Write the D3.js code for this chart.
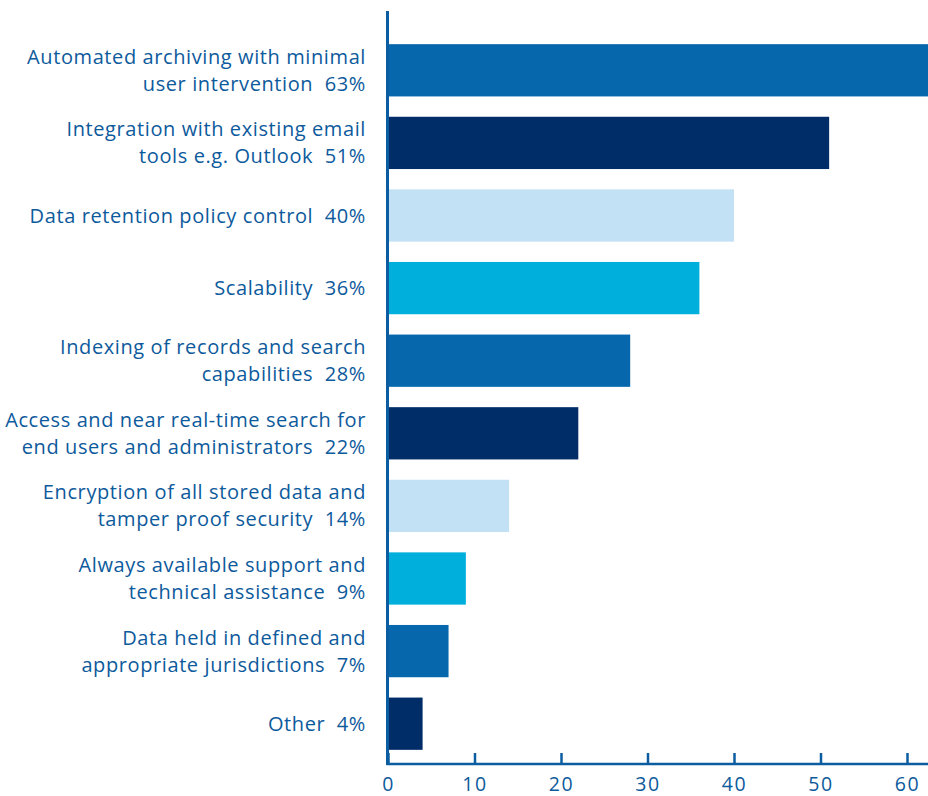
<!DOCTYPE html>
<html>
<head>
<meta charset="utf-8">
<script src="https://cdn.jsdelivr.net/npm/d3@7"></script>
<style>
  html, body { margin: 0; padding: 0; background: #fff; }
  svg { display: block; }
  text { font-family: "Open Sans", "Noto Sans", sans-serif; white-space: pre; }
</style>
</head>
<body>
<svg id="chart" width="928" height="796"></svg>
<script>
const categories = [
  ["Automated archiving with minimal", "user intervention  63%"],
  ["Integration with existing email", "tools e.g. Outlook  51%"],
  ["Data retention policy control  40%"],
  ["Scalability  36%"],
  ["Indexing of records and search", "capabilities  28%"],
  ["Access and near real-time search for", "end users and administrators  22%"],
  ["Encryption of all stored data and", "tamper proof security  14%"],
  ["Always available support and", "technical assistance  9%"],
  ["Data held in defined and", "appropriate jurisdictions  7%"],
  ["Other  4%"]
];
const values = [63, 51, 40, 36, 28, 22, 14, 9, 7, 4];
const palette = ["#0667ad", "#002d67", "#c3e1f5", "#00afdb"];
const tickValues = [0, 10, 20, 30, 40, 50, 60];

const svg = d3.select("#chart");
const W = 928, H = 796;
const axisColor = "#0b5ca0";
const textColor = "#0d5a9c";

const x = d3.scaleLinear().domain([0, 60]).range([388, 907]);
const y = d3.scaleBand().domain(d3.range(values.length)).range([34, 760])
  .paddingInner(0.28).paddingOuter(0.14);
const axisY = 764;

// bars
svg.append("g").selectAll("rect").data(values).join("rect")
  .attr("x", x(0))
  .attr("y", (d, i) => y(i))
  .attr("width", d => x(d) - x(0))
  .attr("height", y.bandwidth())
  .attr("fill", (d, i) => palette[i % palette.length]);

// labels
const lineH = 27;
const lbl = svg.append("g");
categories.forEach((lines, i) => {
  const cy = y(i) + y.bandwidth() / 2;
  const t = lbl.append("text")
    .attr("text-anchor", "end")
    .attr("fill", textColor)
    .attr("font-size", 20)
    .attr("letter-spacing", "0.6px");
  lines.forEach((ln, j) => {
    t.append("tspan")
      .attr("x", 366)
      .attr("y", cy + 7 + (j - (lines.length - 1) / 2) * lineH)
      .text(ln);
  });
});

// x axis
const xAxis = d3.axisBottom(x).tickValues(tickValues).tickSize(-11).tickPadding(0).tickFormat(d3.format("d"));
const gx = svg.append("g").attr("transform", `translate(0,${axisY})`).call(xAxis);
gx.select(".domain").remove();
gx.selectAll(".tick line").attr("stroke", axisColor).attr("stroke-width", 2.5);
gx.selectAll(".tick text").attr("fill", textColor).attr("font-size", 19.5)
  .attr("font-family", "'Open Sans', 'Noto Sans', sans-serif")
  .attr("letter-spacing", "1.5px")
  .attr("y", 26.5).attr("dy", null);
svg.append("line").attr("x1", 386.5).attr("x2", W).attr("y1", axisY).attr("y2", axisY)
  .attr("stroke", axisColor).attr("stroke-width", 2.5);

// y axis line
svg.append("line").attr("x1", 387.5).attr("x2", 387.5).attr("y1", 11).attr("y2", axisY + 1)
  .attr("stroke", axisColor).attr("stroke-width", 3);
</script>
</body>
</html>
